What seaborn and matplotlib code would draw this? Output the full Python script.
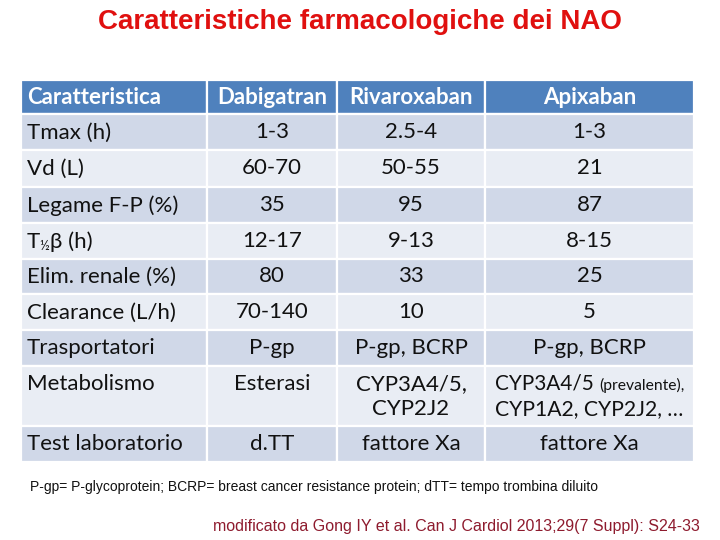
import matplotlib
matplotlib.use("Agg")
import matplotlib.pyplot as plt
import seaborn as sns
from matplotlib.patches import Rectangle

# ---------------- data ----------------
title = "Caratteristiche farmacologiche dei NAO"
columns = ["Caratteristica", "Dabigatran", "Rivaroxaban", "Apixaban"]
features = ["Tmax (h)", "Vd (L)", "Legame F-P (%)", "T½β (h)", "Elim. renale (%)",
            "Clearance (L/h)", "Trasportatori", "Metabolismo", "Test laboratorio"]
dabigatran = ["1-3", "60-70", "35", "12-17", "80", "70-140", "P-gp", "Esterasi", "d.TT"]
rivaroxaban = ["2.5-4", "50-55", "95", "9-13", "33", "10", "P-gp, BCRP",
               "CYP3A4/5,\nCYP2J2", "fattore Xa"]
apixaban = ["1-3", "21", "87", "8-15", "25", "5", "P-gp, BCRP",
            "CYP3A4/5 |(prevalente),\nCYP1A2, CYP2J2, …", "fattore Xa"]
footnote = "P-gp= P-glycoprotein; BCRP= breast cancer resistance protein; dTT= tempo trombina diluito"
source = "modificato da Gong IY et al. Can J Cardiol 2013;29(7 Suppl): S24-33"

# ---------------- style ----------------
sns.set_theme(style="white")
TABLE_FONT = ["Lato", "DejaVu Sans"]
plt.rcParams["font.family"] = TABLE_FONT

HEADER_BG = "#4F81BD"
ROW_DARK = "#D0D8E8"
ROW_LIGHT = "#E9EDF4"
TXT = "#111111"
FS = 16.0

col_edges = [21, 207, 337, 485, 694]
row_edges = [80, 114, 150, 187, 223, 259, 294, 330, 366, 426, 462]

fig = plt.figure(figsize=(7.2, 5.4), dpi=100)
ax = fig.add_axes([0, 0, 1, 1])
ax.set_xlim(0, 720)
ax.set_ylim(540, 0)
ax.axis("off")
renderer = fig.canvas.get_renderer()


def width_px(t):
    bb = t.get_window_extent(renderer=renderer)
    return bb.width


# cells
for r in range(len(row_edges) - 1):
    y0, y1 = row_edges[r], row_edges[r + 1]
    if r == 0:
        color = HEADER_BG
    else:
        color = ROW_DARK if (r - 1) % 2 == 0 else ROW_LIGHT
    for c in range(len(col_edges) - 1):
        x0, x1 = col_edges[c], col_edges[c + 1]
        ax.add_patch(Rectangle((x0, y0), x1 - x0, y1 - y0, facecolor=color,
                               edgecolor="white", linewidth=1.6))

col_centers = [(col_edges[i] + col_edges[i + 1]) / 2 for i in range(4)]

# header
hy = (row_edges[0] + row_edges[1]) / 2 + 0.5
for c, name in enumerate(columns):
    if c == 0:
        ax.text(col_edges[0] + 6, hy, name, ha="left", va="center",
                color="white", fontsize=FS, fontweight="bold")
    else:
        ax.text(col_centers[c], hy, name, ha="center", va="center",
                color="white", fontsize=FS, fontweight="bold")


def draw_label(x, y, s):
    if "½" in s:
        pre, post = s.split("½")
        t1 = ax.text(x, y, pre, ha="left", va="center", color=TXT, fontsize=FS)
        w1 = width_px(t1)
        t2 = ax.text(x + w1 - 0.5, y + 5, "½", ha="left", va="center", color=TXT,
                     fontsize=FS * 0.6)
        w2 = width_px(t2)
        ax.text(x + w1 + w2, y, post, ha="left", va="center", color=TXT,
                fontsize=FS)
    else:
        ax.text(x, y, s, ha="left", va="center", color=TXT, fontsize=FS)


def draw_center(xc, y, s, max_w):
    if "|" in s:
        a, b = s.split("|")
        ta = ax.text(0, y, a, ha="left", va="center", color=TXT, fontsize=FS)
        tb = ax.text(0, y + 1, b, ha="left", va="center", color=TXT, fontsize=FS * 0.75)
        wa, wb = width_px(ta), width_px(tb)
        if wa + wb > max_w:
            k = max_w / (wa + wb)
            ta.set_fontsize(FS * k)
            tb.set_fontsize(FS * 0.75 * k)
            wa, wb = width_px(ta), width_px(tb)
        start = xc - (wa + wb) / 2
        ta.set_x(start)
        tb.set_x(start + wa)
    else:
        t = ax.text(xc, y, s, ha="center", va="center", color=TXT, fontsize=FS)
        w = width_px(t)
        if w > max_w:
            t.set_fontsize(FS * max_w / w)


data_cols = [dabigatran, rivaroxaban, apixaban]
for i, feat in enumerate(features):
    y0, y1 = row_edges[i + 1], row_edges[i + 2]
    tall = (y1 - y0) > 45
    yc = (y0 + y1) / 2
    ytop = y0 + 18 if tall else yc
    draw_label(col_edges[0] + 6, ytop + 0.5, feat)
    for c, col in enumerate(data_cols):
        lines = col[i].split("\n")
        cell_w = col_edges[c + 2] - col_edges[c + 1]
        for k, line in enumerate(lines):
            draw_center(col_centers[c + 1], ytop + k * 25, line, cell_w - 20)

# title and notes
ax.text(359.5, 22, title, ha="center", va="center", color="#E0100F",
        fontsize=20, fontweight="bold", family=["Liberation Sans", "DejaVu Sans"])
ax.text(30, 487, footnote, ha="left", va="center", color="#111111",
        fontsize=10.0, family=["Liberation Sans", "DejaVu Sans"])
ax.text(700, 527, source, ha="right", va="center", color="#8E1B2E",
        fontsize=11.5, family=["Liberation Sans", "DejaVu Sans"])

fig.savefig("out.png", dpi=100, facecolor="white")
